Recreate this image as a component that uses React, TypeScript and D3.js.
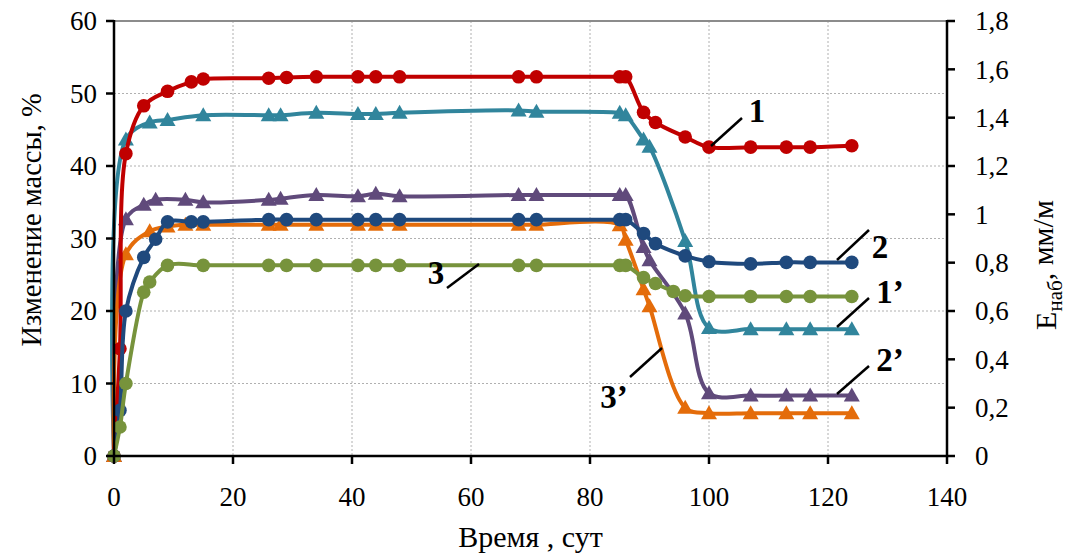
import React from "react";
import * as d3 from "d3";

// ---- data ----
const xTicks = [0, 20, 40, 60, 80, 100, 120, 140];
const yLeftTicks = [0, 10, 20, 30, 40, 50, 60];
const yRightTicks = [0, 0.2, 0.4, 0.6, 0.8, 1, 1.2, 1.4, 1.6, 1.8];

// circles: mass change, %
const redDays = [0, 1, 2, 5, 9, 13, 15, 26, 29, 34, 41, 44, 48, 68, 71, 85, 86, 89, 91, 96, 100, 107, 113, 117, 124];
const redVals = [0, 14.8, 41.7, 48.3, 50.3, 51.6, 52.0, 52.1, 52.2, 52.3, 52.3, 52.3, 52.3, 52.3, 52.3, 52.3, 52.3, 47.4, 46.0, 44.0, 42.6, 42.6, 42.6, 42.6, 42.8];

const blueDays = [0, 1, 2, 5, 7, 9, 13, 15, 26, 29, 34, 41, 44, 48, 68, 71, 85, 86, 89, 91, 96, 100, 107, 113, 117, 124];
const blueVals = [0, 6.3, 20.0, 27.4, 29.9, 32.3, 32.3, 32.3, 32.6, 32.6, 32.6, 32.6, 32.6, 32.6, 32.6, 32.6, 32.6, 32.6, 30.7, 29.3, 27.6, 26.8, 26.5, 26.7, 26.7, 26.7];

const greenDays = [0, 1, 2, 5, 6, 9, 15, 26, 29, 34, 41, 44, 48, 68, 71, 85, 86, 89, 91, 94, 96, 100, 107, 113, 117, 124];
const greenVals = [0, 4.0, 10.0, 22.6, 24.0, 26.3, 26.3, 26.3, 26.3, 26.3, 26.3, 26.3, 26.3, 26.3, 26.3, 26.3, 26.3, 24.6, 23.8, 22.7, 22.1, 22.0, 22.0, 22.0, 22.0, 22.0];

// triangles: swelling E_наб, mm/m (right axis)
const tealDays = [0, 2, 6, 9, 15, 26, 28, 34, 41, 44, 48, 68, 71, 85, 86, 89, 90, 96, 100, 107, 113, 117, 124];
const tealVals = [0, 1.31, 1.38, 1.39, 1.41, 1.41, 1.41, 1.42, 1.415, 1.415, 1.42, 1.43, 1.425, 1.42, 1.41, 1.31, 1.28, 0.89, 0.53, 0.525, 0.525, 0.525, 0.525];

const purpleDays = [0, 2, 5, 7, 12, 15, 26, 28, 34, 41, 44, 48, 68, 71, 85, 86, 89, 90, 96, 100, 107, 113, 117, 124];
const purpleVals = [0, 0.98, 1.04, 1.06, 1.06, 1.05, 1.06, 1.065, 1.08, 1.075, 1.085, 1.075, 1.08, 1.08, 1.08, 1.08, 0.865, 0.81, 0.59, 0.26, 0.25, 0.25, 0.25, 0.25];

const orangeDays = [0, 2, 6, 9, 12, 15, 26, 28, 34, 41, 44, 48, 68, 71, 85, 86, 89, 90, 96, 100, 107, 113, 117, 124];
const orangeVals = [0, 0.835, 0.93, 0.95, 0.957, 0.957, 0.957, 0.957, 0.957, 0.957, 0.957, 0.957, 0.957, 0.957, 0.955, 0.895, 0.69, 0.62, 0.2, 0.177, 0.177, 0.177, 0.177, 0.177];

type Series = { days: number[]; vals: number[]; color: string; marker: "circle" | "triangle"; axis: "left" | "right" };

const seriesList: Series[] = [
  { days: tealDays, vals: tealVals, color: "#31859C", marker: "triangle", axis: "right" },
  { days: purpleDays, vals: purpleVals, color: "#604A7B", marker: "triangle", axis: "right" },
  { days: orangeDays, vals: orangeVals, color: "#E46C0A", marker: "triangle", axis: "right" },
  { days: redDays, vals: redVals, color: "#C00000", marker: "circle", axis: "left" },
  { days: blueDays, vals: blueVals, color: "#1F497D", marker: "circle", axis: "left" },
  { days: greenDays, vals: greenVals, color: "#77933C", marker: "circle", axis: "left" },
];

const FONT = "'Liberation Serif', 'Times New Roman', serif";

export default function App() {
  const left = 114, right = 947, top = 21, bottom = 456;
  const x = d3.scaleLinear().domain([0, 140]).range([left, right]);
  const yL = d3.scaleLinear().domain([0, 60]).range([bottom, top]);
  const yR = d3.scaleLinear().domain([0, 1.8]).range([bottom, top]);

  const fmt = (v: number) => (Math.round(v * 10) / 10).toString().replace(".", ",");

  const tri = "M0,-8 L8,6 L-8,6 Z";

  return (
    <svg width={1066} height={554} style={{ position: "absolute", left: 0, top: 0, background: "#fff" }} fontFamily={FONT}>
      {/* grid */}
      {xTicks.slice(1, -1).map((t) => (
        <line key={"gx" + t} x1={x(t)} x2={x(t)} y1={top} y2={bottom} stroke="#b0b0b0" strokeWidth={1} strokeDasharray="2,2" />
      ))}
      {yLeftTicks.slice(1, -1).map((t) => (
        <line key={"gy" + t} x1={left} x2={right} y1={yL(t)} y2={yL(t)} stroke="#b0b0b0" strokeWidth={1} strokeDasharray="2,2" />
      ))}
      <line x1={left} x2={right} y1={top} y2={top} stroke="#8c8c8c" strokeWidth={2} />

      {/* series */}
      {seriesList.map((s, i) => {
        const yS = s.axis === "left" ? yL : yR;
        const pts: [number, number][] = s.days.map((d, j) => [x(d), yS(s.vals[j])]);
        const path = d3.line().curve(d3.curveCatmullRom.alpha(0.5))(pts) || "";
        return (
          <g key={i}>
            <path d={path} fill="none" stroke={s.color} strokeWidth={4} strokeLinejoin="round" />
            {pts.map(([px, py], j) =>
              s.marker === "circle" ? (
                <circle key={j} cx={px} cy={py} r={6.8} fill={s.color} />
              ) : (
                <path key={j} d={tri} transform={`translate(${px},${py})`} fill={s.color} />
              )
            )}
          </g>
        );
      })}

      {/* axes */}
      <line x1={left} x2={left} y1={top - 1} y2={bottom + 1} stroke="#000" strokeWidth={2.5} />
      <line x1={right} x2={right} y1={top - 1} y2={bottom + 1} stroke="#000" strokeWidth={2.5} />
      <line x1={left - 1} x2={right + 1} y1={bottom} y2={bottom} stroke="#000" strokeWidth={2.5} />
      {yLeftTicks.map((t) => (
        <g key={"yl" + t}>
          <line x1={left - 8} x2={left} y1={yL(t)} y2={yL(t)} stroke="#000" strokeWidth={2.5} />
          <text x={97} y={yL(t)} dy="0.35em" textAnchor="end" fontSize={27}>{t}</text>
        </g>
      ))}
      {yRightTicks.map((t) => (
        <g key={"yr" + t}>
          <line x1={right} x2={right + 8} y1={yR(t)} y2={yR(t)} stroke="#000" strokeWidth={2.5} />
          <text x={975} y={yR(t)} dy="0.35em" textAnchor="start" fontSize={27}>{fmt(t)}</text>
        </g>
      ))}
      {xTicks.map((t) => (
        <g key={"x" + t}>
          <line x1={x(t)} x2={x(t)} y1={bottom} y2={bottom + 8} stroke="#000" strokeWidth={2.5} />
          <text x={x(t)} y={497} dy="0.35em" textAnchor="middle" fontSize={27}>{t}</text>
        </g>
      ))}

      {/* axis titles */}
      <text x={(left + right) / 2} y={536} dy="0.35em" textAnchor="middle" fontSize={30}>Время , сут</text>
      <text transform={`translate(31,220) rotate(-90)`} dy="0.35em" textAnchor="middle" fontSize={28.5}>Изменение массы, %</text>
      <text transform={`translate(1045,265) rotate(-90)`} dy="0.35em" textAnchor="middle" fontSize={30}>
        E<tspan fontSize={21} dy="0.3em">наб</tspan><tspan dy="-0.3em">, мм/м</tspan>
      </text>

      {/* curve labels */}
      <g stroke="#000" strokeWidth={2.5}>
        <line x1={711} y1={146} x2={742} y2={118} />
        <line x1={837} y1={260} x2={869} y2={230} />
        <line x1={837} y1={327} x2={869} y2={298} />
        <line x1={837} y1={394} x2={869} y2={366} />
        <line x1={447} y1={288} x2={479} y2={264} />
        <line x1={630} y1={377} x2={662} y2={348} />
      </g>
      <g fontSize={33} fontWeight="bold">
        <text x={757} y={122} textAnchor="middle">1</text>
        <text x={880} y={258} textAnchor="middle">2</text>
        <text x={890} y={303} textAnchor="middle">1’</text>
        <text x={890} y={371} textAnchor="middle">2’</text>
        <text x={436} y={284} textAnchor="middle">3</text>
        <text x={614} y={408} textAnchor="middle">3’</text>
      </g>
    </svg>
  );
}
